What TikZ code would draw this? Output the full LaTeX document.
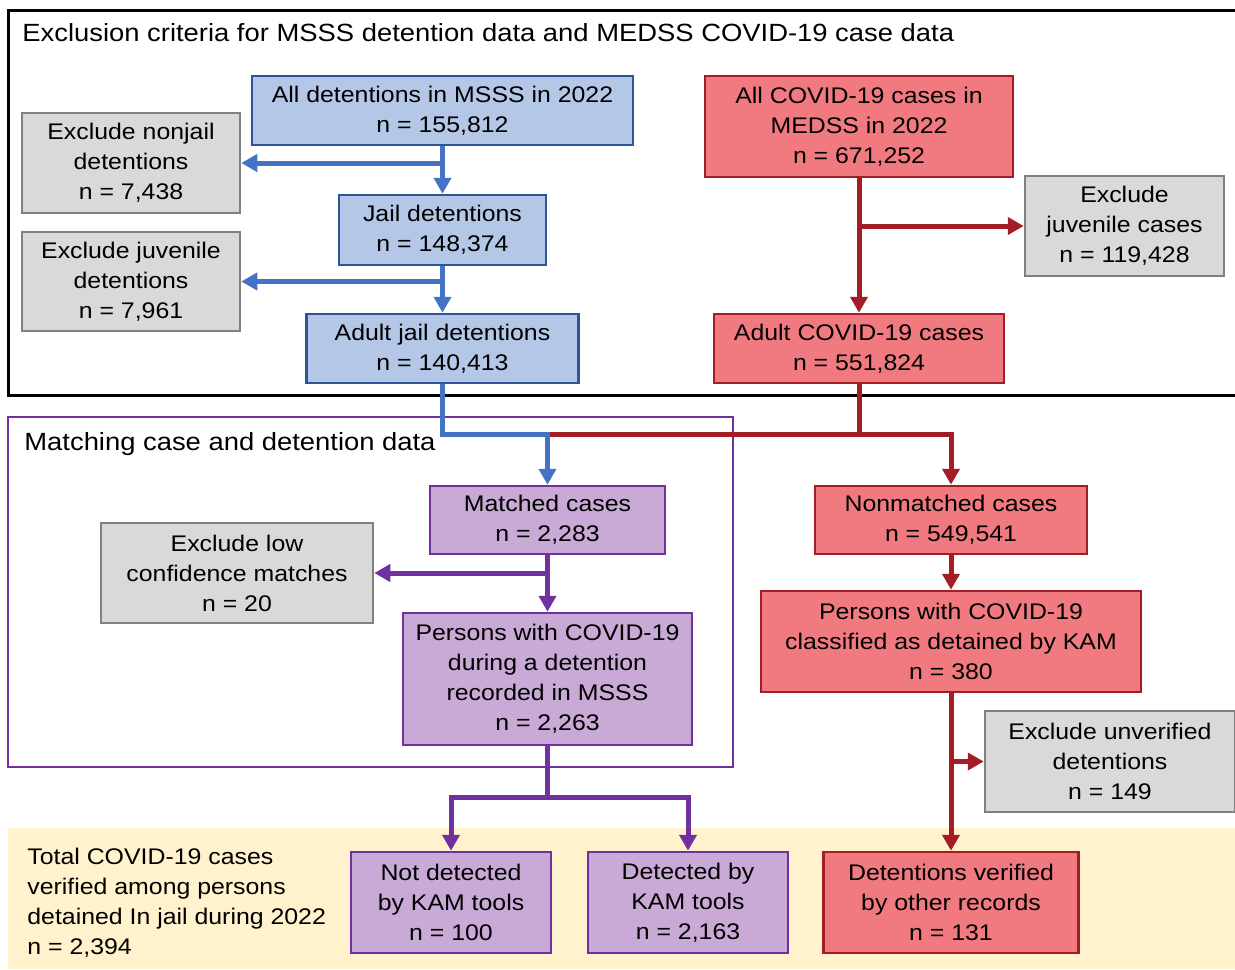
\documentclass[tikz,border=0pt]{standalone}
\usepackage{fontspec}
\setmainfont{Liberation Sans}[FakeStretch=1.1]
\usetikzlibrary{arrows.meta}
\definecolor{bluefill}{HTML}{B4C7E7}
\definecolor{blueline}{HTML}{2F5597}
\definecolor{bluearrow}{HTML}{4472C4}
\definecolor{redfill}{HTML}{F17A80}
\definecolor{redline}{HTML}{A31D24}
\definecolor{purplefill}{HTML}{C9A9D5}
\definecolor{purpleline}{HTML}{7030A0}
\definecolor{grayfill}{HTML}{D9D9D9}
\definecolor{grayline}{HTML}{808080}
\definecolor{bandfill}{HTML}{FFF2CC}

\begin{document}
\begin{tikzpicture}[x=0.5pt, y=-0.5pt,
    box/.style={draw, line width=1.25pt, inner sep=2pt, align=center, font=\fontsize{11.3}{15}\selectfont},
    bluebox/.style={box, fill=bluefill, draw=blueline},
    redbox/.style={box, fill=redfill, draw=redline},
    purplebox/.style={box, fill=purplefill, draw=purpleline},
    graybox/.style={box, fill=grayfill, draw=grayline},
    heading/.style={anchor=west, inner sep=0pt, font=\fontsize{12.45}{15}\selectfont},
    tip/.style={-{Triangle[length=8pt,width=8.5pt]}},
    bline/.style={draw=bluearrow, line width=2.5pt},
    rline/.style={draw=redline, line width=2.5pt},
    pline/.style={draw=purpleline, line width=2.5pt}]
    \useasboundingbox (0,0) rectangle (1235,969);

    % Bande du total
    \fill[bandfill] (8,828) rectangle (1235,969);

    % Cadres
    \draw[line width=1.5pt] (1236,10) -- (8,10) -- (8,395) -- (1236,395);
    \draw[purpleline, line width=1pt] (8,417) rectangle (733,767);
    \node[heading] (title1) at (22,33) {Exclusion criteria for MSSS detention data and MEDSS COVID-19 case data};
    \node[heading] (title2) at (24,444) {Matching case and detention data};

    % Detentions (MSSS)
    \node[bluebox, minimum width=190.5pt, minimum height=34.5pt] (det0) at (442.5,110.5) {All detentions in MSSS in 2022\\n = 155,812};
    \node[graybox, minimum width=109pt, minimum height=50pt] (nonjail) at (131,163) {Exclude nonjail\\detentions\\n = 7,438};
    \node[bluebox, minimum width=103.5pt, minimum height=35pt] (jail) at (442.5,230) {Jail detentions\\n = 148,374};
    \node[graybox, minimum width=109pt, minimum height=49.5pt] (juvdet) at (131,281.5) {Exclude juvenile\\detentions\\n = 7,961};
    \node[bluebox, minimum width=136pt, minimum height=34.5pt] (adultjail) at (442.5,348.5) {Adult jail detentions\\n = 140,413};

    % Cas COVID-19 (MEDSS)
    \node[redbox, minimum width=154pt, minimum height=50.5pt] (cov0) at (859,126.5) {All COVID-19 cases in\\MEDSS in 2022\\n = 671,252};
    \node[graybox, minimum width=99.5pt, minimum height=50pt] (juvcase) at (1124.5,226) {Exclude\\juvenile cases\\n = 119,428};
    \node[redbox, minimum width=145pt, minimum height=34.5pt] (adultcov) at (859,348.5) {Adult COVID-19 cases\\n = 551,824};

    % Appariement
    \node[purplebox, minimum width=117.5pt, minimum height=34pt] (matched) at (547.5,520) {Matched cases\\n = 2,283};
    \node[graybox, minimum width=136pt, minimum height=50pt] (lowconf) at (237,573) {Exclude low\\confidence matches\\n = 20};
    \node[purplebox, minimum width=144.5pt, minimum height=66pt] (persons) at (547.5,679) {Persons with COVID-19\\during a detention\\recorded in MSSS\\n = 2,263};
    \node[redbox, minimum width=136pt, minimum height=34pt] (nonmatched) at (951,520) {Nonmatched cases\\n = 549,541};
    \node[redbox, minimum width=190pt, minimum height=50.5pt] (classified) at (951,641.5) {Persons with COVID-19\\classified as detained by KAM\\n = 380};
    \node[graybox, minimum width=125pt, minimum height=50.5pt] (unverified) at (1110,761.5) {Exclude unverified\\detentions\\n = 149};

    % Total
    \node[heading, align=left, font=\fontsize{11.3}{15}\selectfont] (total) at (27,903) {Total COVID-19 cases\\verified among persons\\detained In jail during 2022\\n = 2,394};
    \node[purplebox, minimum width=100pt, minimum height=50.5pt] (notdet) at (451,902.5) {Not detected\\by KAM tools\\n = 100};
    \node[purplebox, minimum width=100pt, minimum height=50.5pt] (det) at (688,902.5) {Detected by\\KAM tools\\n = 2,163};
    \node[redbox, minimum width=127.5pt, minimum height=50.5pt] (verified) at (951,902.5) {Detentions verified\\by other records\\n = 131};

    % Points de jonction
    \coordinate (join) at (547.5,434);
    \coordinate (split) at (547.5,797);

    % Fleches bleues
    \draw[bline, tip] (det0.south) -- (jail.north);
    \draw[bline, tip] (jail.north |- nonjail.east) -- (nonjail.east);
    \draw[bline, tip] (jail.south) -- (adultjail.north);
    \draw[bline, tip] (adultjail.north |- juvdet.east) -- (juvdet.east);

    % Fleches rouges
    \draw[rline, tip] (cov0.south) -- (adultcov.north);
    \draw[rline, tip] (cov0.south |- juvcase.west) -- (juvcase.west);
    \draw[rline] (adultcov.south) |- (join);
    \draw[rline, tip] (adultcov.south |- join) -| (nonmatched.north);
    \draw[rline, tip] (nonmatched.south) -- (classified.north);
    \draw[rline, tip] (classified.south) -- (classified.south |- verified.north);
    \draw[rline, tip] (classified.south |- unverified.west) -- (unverified.west);

    % Fleches violettes
    \draw[bline, tip] (adultjail.south) |- (join) -- (matched.north);
    \draw[pline, tip] (matched.south) -- (persons.north);
    \draw[pline, tip] (matched.south |- lowconf.east) -- (lowconf.east);
    \draw[pline] (persons.south) -- (split);
    \draw[pline, tip] (split) -| (notdet.north);
    \draw[pline, tip] (split) -| (det.north);
\end{tikzpicture}
\end{document}
